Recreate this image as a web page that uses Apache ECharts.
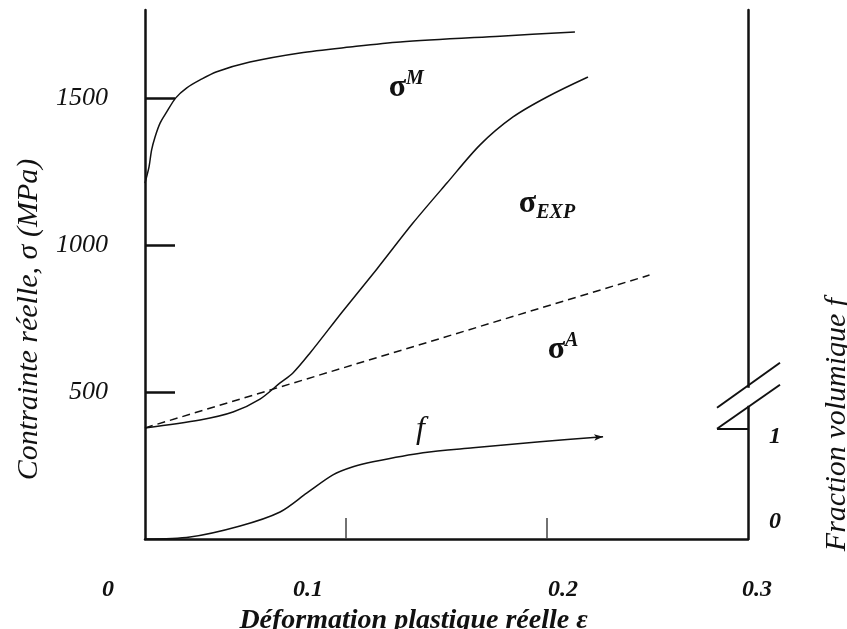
<!DOCTYPE html>
<html><head><meta charset="utf-8">
<script src="https://cdn.jsdelivr.net/npm/echarts@6/dist/echarts.min.js"></script>
<style>html,body{margin:0;padding:0;background:#fff}#c{width:847px;height:629px}</style>
</head><body><div id="c"></div>
<script>
// ---- data ----
const epsM   = [0, 0.0008, 0.002, 0.0033, 0.005, 0.0075, 0.0108, 0.0153, 0.0208, 0.0274, 0.0357, 0.0522, 0.0771, 0.102, 0.1269, 0.1766, 0.2139];
const sigmaM = [1211, 1232, 1266, 1324, 1368, 1415, 1453, 1501, 1535, 1562, 1590, 1623, 1654, 1674, 1691, 1711, 1725];

const epsExp   = [0, 0.0274, 0.0438, 0.0572, 0.0672, 0.0736, 0.0821, 0.0985, 0.1154, 0.1333, 0.1502, 0.1667, 0.1831, 0.2, 0.2204];
const sigmaExp = [378, 405, 432, 476, 531, 565, 633, 776, 919, 1075, 1211, 1341, 1436, 1504, 1572];

const epsA   = [0, 0.251];
const sigmaA = [378, 898];

const epsF  = [0, 0.0224, 0.0473, 0.0672, 0.0806, 0.0935, 0.1035, 0.1134, 0.1383, 0.1632, 0.1965, 0.2279];
const fracF = [0, 0.018, 0.118, 0.245, 0.418, 0.582, 0.655, 0.7, 0.782, 0.827, 0.882, 0.927];

const xTicks = [0, 0.1, 0.2, 0.3];
const yTicks = [500, 1000, 1500];
const fTicks = [0, 1];

const pairs = (xs, ys) => xs.map((x, i) => [x, ys[i]]);

const serif = '"Liberation Serif", "Times New Roman", serif';
const chart = echarts.init(document.getElementById('c'), null, {renderer: 'canvas'});

const xRich = {
  x0: {padding: [0, 74, 0, 0]},
  x1: {padding: [0, 76, 0, 0]},
  x2: {padding: [0, 0, 0, 32]},
  x3: {padding: [0, 0, 0, 18]}
};
const fRich = {
  f0: {padding: [0, 0, 34, 0]},
  f1: {padding: [16, 0, 0, 0]}
};

const lineStyle = {color: '#111', width: 1.5};
const sig = {fontFamily: serif, fontWeight: 'bold', fontSize: 32, color: '#111', lineHeight: 38};
const sup = {fontFamily: serif, fontWeight: 'bold', fontStyle: 'italic', fontSize: 20, color: '#111', lineHeight: 20, verticalAlign: 'top'};
const sub = {fontFamily: serif, fontWeight: 'bold', fontStyle: 'italic', fontSize: 20, color: '#111', lineHeight: 20, verticalAlign: 'bottom'};

function mark(coord, text) {
  return {
    symbolSize: 0,
    silent: true,
    label: {show: true, position: 'inside', formatter: text, rich: {s: sig, u: sup, d: sub,
      f: {fontFamily: serif, fontStyle: 'italic', fontSize: 32, color: '#111'}}},
    data: [{coord: coord}]
  };
}

const fData = pairs(epsF, fracF).map((p, i, arr) => i === arr.length - 1
  ? {value: p, symbol: 'arrow', symbolSize: [5, 9], symbolRotate: -86, itemStyle: {color: '#111'}}
  : {value: p, symbol: 'none'});

const option = {
  backgroundColor: '#fff',
  animation: false,
  grid: {left: 145, right: 99, top: 10, bottom: 90, containLabel: false, outerBoundsMode: 'none'},
  xAxis: {
    type: 'value', min: 0, max: 0.3, interval: 0.1,
    name: 'Déformation plastique réelle ε',
    nameLocation: 'middle', nameGap: 56,
    nameTextStyle: {fontFamily: serif, fontStyle: 'italic', fontWeight: 'bold', fontSize: 28, color: '#111', padding: [0, 66, 0, 0]},
    axisLine: {show: true, onZero: false, lineStyle: {color: '#111', width: 2.5}},
    axisTick: {show: true, inside: true, length: 21, customValues: [0.1, 0.2], lineStyle: {color: '#444', width: 1.5}},
    axisLabel: {
      margin: 39, customValues: xTicks,
      fontFamily: serif, fontStyle: 'italic', fontWeight: 'bold', fontSize: 24, color: '#111',
      formatter: v => {
        const i = xTicks.findIndex(t => Math.abs(t - v) < 1e-9);
        const s = v === 0 ? '0' : v.toFixed(1);
        return '{x' + i + '|' + s + '}';
      },
      rich: xRich
    },
    splitLine: {show: false}
  },
  yAxis: [{
    type: 'value', min: 0, max: 1800, interval: 500, position: 'left',
    name: 'Contrainte réelle, σ (MPa)',
    nameLocation: 'middle', nameRotate: 90, nameGap: 101,
    nameTextStyle: {fontFamily: serif, fontStyle: 'italic', fontSize: 30, color: '#111', padding: [0, 90, 0, 0]},
    axisLine: {show: true, onZero: false, lineStyle: {color: '#111', width: 2.5}},
    axisTick: {show: true, inside: true, length: 30, customValues: yTicks, lineStyle: {color: '#111', width: 2.5}},
    axisLabel: {margin: 37, customValues: yTicks, fontFamily: serif, fontStyle: 'italic', fontSize: 26, color: '#111',
      formatter: v => String(Math.round(v))},
    splitLine: {show: false}
  }, {
    type: 'value', min: 0, max: 4.8, interval: 1, position: 'right',
    name: 'Fraction volumique f',
    nameLocation: 'middle', nameRotate: 90, nameGap: 74,
    nameTextStyle: {fontFamily: serif, fontStyle: 'italic', fontSize: 30, color: '#111', padding: [0, 300, 0, 0]},
    axisLine: {show: true, onZero: false, lineStyle: {color: '#111', width: 2.5}},
    axisTick: {show: true, inside: true, length: 31, customValues: [1], lineStyle: {color: '#111', width: 2}},
    axisLabel: {
      margin: 21, customValues: fTicks, fontFamily: serif, fontStyle: 'italic', fontWeight: 'bold', fontSize: 24, color: '#111',
      formatter: v => '{f' + Math.round(v) + '|' + Math.round(v) + '}', rich: fRich
    },
    splitLine: {show: false}
  }],
  series: [{
    name: 'sigmaM', type: 'line', data: pairs(epsM, sigmaM), showSymbol: false, symbol: 'none',
    smooth: 0.3, lineStyle: lineStyle,
    markPoint: mark([0.130, 1535], '{s|σ}{u|M}')
  }, {
    name: 'sigmaExp', type: 'line', data: pairs(epsExp, sigmaExp), showSymbol: false, symbol: 'none',
    smooth: 0.3, lineStyle: lineStyle,
    markPoint: mark([0.2, 1140], '{s|σ}{d|EXP}')
  }, {
    name: 'sigmaA', type: 'line', data: pairs(epsA, sigmaA), showSymbol: false, symbol: 'none',
    lineStyle: {color: '#111', width: 1.5, type: [8, 5]},
    markPoint: mark([0.208, 643], '{s|σ}{u|A}')
  }, {
    name: 'f', type: 'line', yAxisIndex: 1, data: fData, showSymbol: true, symbol: 'none',
    smooth: 0.3, lineStyle: lineStyle,
    markPoint: mark([0.137, 0.99], '{f|f}')
  }]
};
chart.setOption(option);

// axis break symbol on the right axis, placed from the axis scales
const xr = chart.convertToPixel({xAxisIndex: 0}, 0.3);
const y1 = chart.convertToPixel({yAxisIndex: 1}, 1);
chart.setOption({
  graphic: [
    {type: 'rect', z: 100, shape: {x: xr - 3, y: y1 - 41, width: 6, height: 18}, style: {fill: '#fff'}},
    {type: 'line', z: 101, shape: {x1: xr - 31, y1: y1, x2: xr + 32, y2: y1 - 44}, style: {stroke: '#111', lineWidth: 2}},
    {type: 'line', z: 101, shape: {x1: xr - 31, y1: y1 - 21, x2: xr + 32, y2: y1 - 66}, style: {stroke: '#111', lineWidth: 2}}
  ]
});
</script></body></html>
